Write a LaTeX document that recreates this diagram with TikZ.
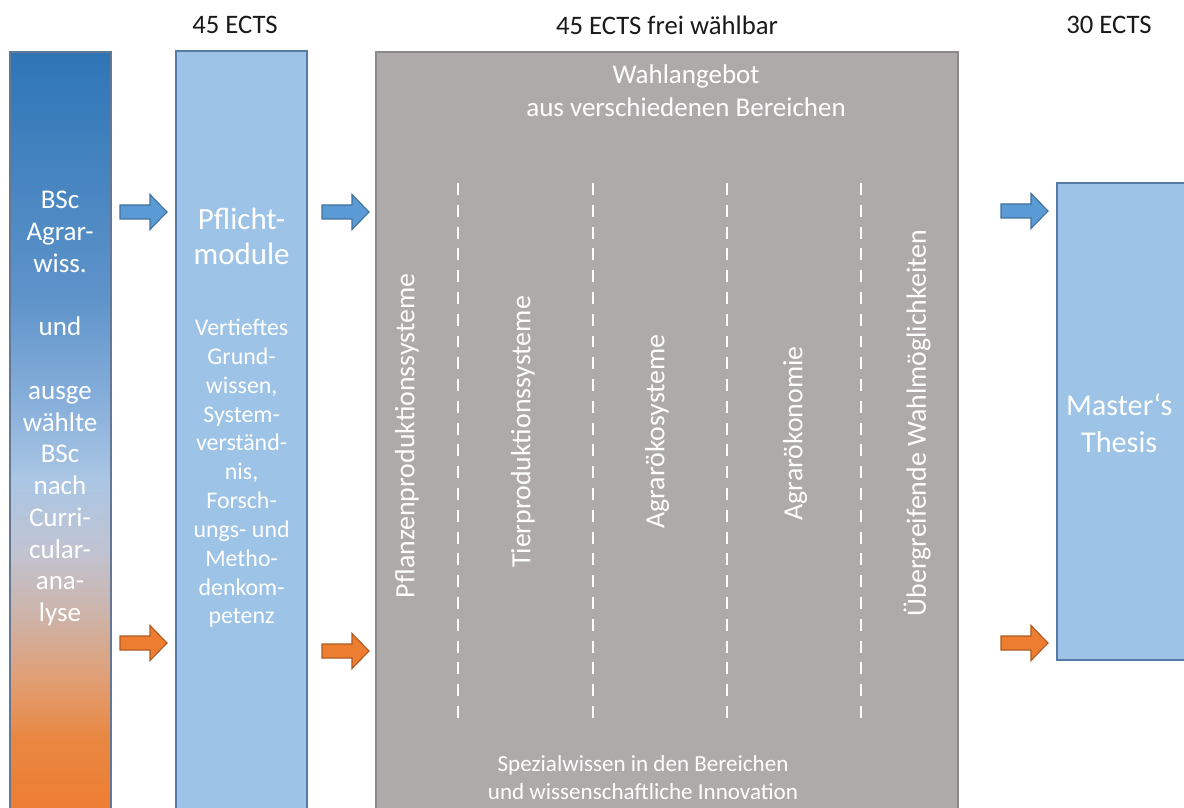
\documentclass[tikz,border=0pt]{standalone}
\usepackage{fontspec}
\setmainfont{Carlito}
\usepackage{xcolor}

\definecolor{pflichtblue}{RGB}{157,195,230}
\definecolor{pflichtline}{RGB}{84,122,165}
\definecolor{wahlgray}{RGB}{174,170,170}
\definecolor{wahlline}{RGB}{138,138,138}
\definecolor{bscline}{RGB}{100,120,150}
\definecolor{arrblue}{RGB}{91,155,213}
\definecolor{arrblueline}{RGB}{65,113,156}
\definecolor{arrorange}{RGB}{237,125,49}
\definecolor{arrorangeline}{RGB}{174,90,33}
\definecolor{headtext}{RGB}{25,25,25}
% gradient stops of the BSc column
\definecolor{gradA}{RGB}{237,125,49}
\definecolor{gradB}{RGB}{233,135,65}
\definecolor{gradC}{RGB}{225,158,115}
\definecolor{gradD}{RGB}{205,180,170}
\definecolor{gradE}{RGB}{192,195,210}
\definecolor{gradF}{RGB}{170,198,228}
\definecolor{gradG}{RGB}{135,175,218}
\definecolor{gradH}{RGB}{95,148,202}
\definecolor{gradI}{RGB}{46,117,182}

\pgfdeclareverticalshading{bscshade}{100bp}{color(0bp)=(gradA); color(25bp)=(gradA); color(29.7bp)=(gradB); color(33.6bp)=(gradC); color(38bp)=(gradD); color(42.2bp)=(gradE); color(46.8bp)=(gradF); color(52bp)=(gradG); color(58.7bp)=(gradH); color(75bp)=(gradI); color(100bp)=(gradI)}

\tikzset{
  heading/.style={text=headtext, font=\fontsize{19}{22}\selectfont},
  coltext/.style={text=white, align=center, inner sep=0pt},
  sidelabel/.style={text=white, rotate=90, inner sep=0pt, font=\fontsize{19.8}{23}\selectfont},
  sepline/.style={white, line width=1.8pt, dash pattern=on 8.5pt off 7pt},
  flowarrow/.style={fill=#1, draw=#1line, line width=0.8pt},
}

\begin{document}
\begin{tikzpicture}
    \useasboundingbox (0,0) rectangle (29.6,20.175);
    \clip (0,0) rectangle (29.6,20.175);

    % columns
    \shade[shading=bscshade, draw=bscline, line width=1pt] (0.25,-0.1) rectangle (2.775,18.875);
    \filldraw[fill=pflichtblue, draw=pflichtline, line width=1pt] (4.4,-0.1) rectangle (7.675,18.9);
    \filldraw[fill=wahlgray, draw=wahlline, line width=1pt] (9.4,-0.1) rectangle (23.95,18.875);
    \filldraw[fill=pflichtblue, draw=pflichtline, line width=1pt] (26.425,3.675) rectangle (30.2,15.6);

    \node[heading] (ectsA) at (5.875,19.55) {45 ECTS};
    \node[heading] (ectsB) at (16.675,19.55) {45 ECTS frei wählbar};
    \node[heading] (ectsC) at (27.725,19.55) {30 ECTS};

    \node[coltext, font=\fontsize{19.2}{22.6}\selectfont] (bsc) at (1.5,9.96)
        {BSc\\Agrar-\\wiss.\\~\\und\\~\\ausge\\wählte\\BSc\\nach\\Curri-\\cular-\\ana-\\lyse};

    \node[coltext, font=\fontsize{22}{25}\selectfont] (pflicht) at (6.04,14.26) {Pflicht-\\module};
    \node[coltext, font=\fontsize{17}{20.5}\selectfont] (grund) at (6.04,8.34)
        {Vertieftes\\Grund-\\wissen,\\System-\\verständ-\\nis,\\Forsch-\\ungs- und\\Metho-\\denkom-\\petenz};

    \node[coltext, font=\fontsize{19.2}{23.5}\selectfont] (wahl) at (17.15,17.91)
        {Wahlangebot\\aus verschiedenen Bereichen};
    \node[coltext, font=\fontsize{16.4}{20}\selectfont] (spezial) at (16.075,0.725)
        {Spezialwissen in den Bereichen\\und wissenschaftliche Innovation};

    % dashed separators
    \foreach \x in {11.45,14.825,18.175,21.525}
        \draw[sepline] (\x,15.6) -- (\x,2.125);

    \node[sidelabel] (pflanzen) at (10.175,9.275) {Pflanzenproduktionssysteme};
    \node[sidelabel] (tier) at (13.075,9.375) {Tierproduktionssysteme};
    \node[sidelabel] (oekosys) at (16.425,9.39) {Agrarökosysteme};
    \node[sidelabel] (oekonomie) at (19.875,9.34) {Agrarökonomie};
    \node[sidelabel] (uebergreifend) at (22.925,9.6) {Übergreifende Wahlmöglichkeiten};

    \node[coltext, font=\fontsize{21.5}{26.3}\selectfont] (thesis) at (27.98,9.6) {Master‘s\\Thesis};

    % block arrows
    \foreach \x/\y/\c in {3.0/14.875/arrblue, 8.05/14.875/arrblue, 25.025/14.9/arrblue,
                          3.0/4.1/arrorange, 8.05/3.9/arrorange, 25.025/4.1/arrorange}
        \filldraw[flowarrow=\c] (\x,\y) ++(0,0.175) -- ++(0.75,0) -- ++(0,0.2625)
            -- ++(0.425,-0.4375) -- ++(-0.425,-0.4375) -- ++(0,0.2625) -- ++(-0.75,0) -- cycle;

\end{tikzpicture}
\end{document}
